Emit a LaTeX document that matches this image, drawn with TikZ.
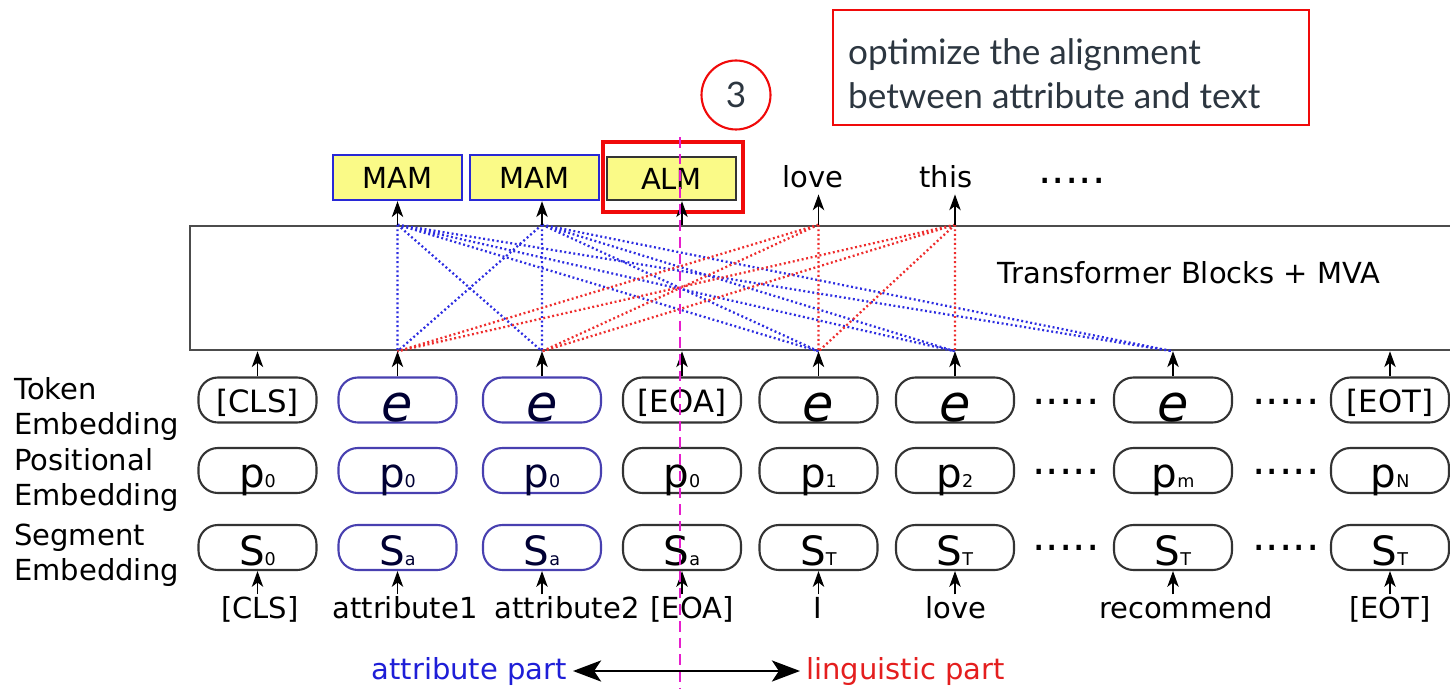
\documentclass[tikz,border=0pt]{standalone}
\usepackage{fontspec}
\setmainfont{DejaVu Sans}
\newfontfamily\notefont{Lato}
\usetikzlibrary{arrows.meta}

\definecolor{attrblue}{RGB}{72,64,176}
\definecolor{headblue}{RGB}{40,40,214}
\definecolor{headyellow}{RGB}{250,250,135}
\definecolor{dotblue}{RGB}{45,45,225}
\definecolor{dotred}{RGB}{238,45,45}
\definecolor{splitpink}{RGB}{230,30,205}
\definecolor{notered}{RGB}{240,10,10}
\definecolor{notetext}{RGB}{44,54,64}
\definecolor{partblue}{RGB}{30,30,215}
\definecolor{partred}{RGB}{228,30,30}

% glyphs inside the embedding boxes
\newcommand{\embe}{{\fontsize{29}{29}\selectfont\itshape e}}
\newcommand{\posp}[1]{{\fontsize{23}{23}\selectfont p}{\fontsize{10}{10}\selectfont #1}}
\newcommand{\segs}[1]{{\fontsize{23}{23}\selectfont S}{\fontsize{10}{10}\selectfont #1}}

\begin{document}
\begin{tikzpicture}[
    x=0.02cm, y=-0.02cm,
    font=\fontsize{16.5}{20}\selectfont,
    emb/.style={draw=black!80, line width=1.2pt, rounded corners=11pt, minimum width=2.36cm, minimum height=0.9cm, inner sep=0pt, text height=0.7cm, text depth=0pt},
    attr/.style={emb, draw=attrblue, text=black!80!blue},
    special/.style={font=\fontsize{17.5}{17.5}\selectfont, text height=0.52cm},
    evec/.style={text height=0.86cm},
    head/.style={draw=headblue, line width=1.4pt, fill=headyellow, minimum width=2.58cm, minimum height=0.9cm, inner sep=0pt},
    arrow/.style={-{Stealth[length=9pt,width=6.5pt,inset=2.5pt]}, line width=0.7pt},
    attnblue/.style={draw=dotblue, line width=1.3pt, dash pattern=on 1.1pt off 1.5pt},
    attnred/.style={draw=dotred, line width=1.3pt, dash pattern=on 1.1pt off 1.5pt},
    word/.style={inner sep=1pt, text height=0.44cm, text depth=0.14cm},
    gap/.style={font=\fontsize{24}{24}\selectfont, inner sep=0pt}
]
\clip (0,0) rectangle (1450,689);

% Note on the alignment objective
\node[draw=notered, line width=1.6pt, minimum width=9.52cm, minimum height=2.3cm] (note) at (1071,67.5) {};
\node[align=left, text=notetext, font=\notefont\fontsize{20}{25}\selectfont, anchor=west] (notetxt) at (842,74) {optimize the alignment\\between attribute and text};
\node[circle, draw=notered, line width=1.2pt, minimum size=1.38cm, text=notetext, font=\notefont\fontsize{20}{20}\selectfont] (three) at (736,95) {3};

% Output heads
\node[head] (mam1) at (397.5,177.5) {MAM};
\node[head] (mam2) at (534.5,177.5) {MAM};
\node[head, draw=black!80, minimum height=0.86cm] (alm) at (671.5,178.5) {ALM};
\node[draw=notered, line width=2.8pt, minimum width=2.8cm, minimum height=1.4cm] (focus) at (673,177) {};
\node (out5) at (813,177) {love};
\node (out6) at (946,177) {this};
\node[gap] (outgap) at (1072,181) {.....};

% Transformer
\node[draw=black!70, line width=1.5pt, minimum width=25.8cm, minimum height=2.48cm] (blk) at (835,288) {};
\node (blktxt) at (1189,273) {Transformer Blocks + MVA};

% Row names
\node[anchor=west, align=left, inner sep=0pt] (tokname) at (14,409) {Token\\Embedding};
\node[anchor=west, align=left, inner sep=0pt] (posname) at (14,480) {Positional\\Embedding};
\node[anchor=west, align=left, inner sep=0pt] (segname) at (14,555) {Segment\\Embedding};

% Token embeddings
\node[emb, special] (tok1) at (257.5,400) {[CLS]};
\node[attr, evec] (tok2) at (397.5,400) {\embe};
\node[attr, evec] (tok3) at (542,400) {\embe};
\node[emb, special] (tok4) at (682,400) {[EOA]};
\node[emb, evec] (tok5) at (818.5,400) {\embe};
\node[emb, evec] (tok6) at (955,400) {\embe};
\node[emb, evec] (tok7) at (1173,400) {\embe};
\node[emb, special] (tok8) at (1390,400) {[EOT]};
\node[gap] (tokgap1) at (1066,402) {.....};
\node[gap] (tokgap2) at (1286,402) {.....};

% Positional embeddings
\node[emb] (pos1) at (257.5,470.5) {\posp{0}};
\node[attr] (pos2) at (397.5,470.5) {\posp{0}};
\node[attr] (pos3) at (542,470.5) {\posp{0}};
\node[emb] (pos4) at (682,470.5) {\posp{0}};
\node[emb] (pos5) at (818.5,470.5) {\posp{1}};
\node[emb] (pos6) at (955,470.5) {\posp{2}};
\node[emb] (pos7) at (1173,470.5) {\posp{m}};
\node[emb] (pos8) at (1390,470.5) {\posp{N}};
\node[gap] (posgap1) at (1066,472) {.....};
\node[gap] (posgap2) at (1286,472) {.....};

% Segment embeddings
\node[emb] (seg1) at (257.5,547.5) {\segs{0}};
\node[attr] (seg2) at (397.5,547.5) {\segs{a}};
\node[attr] (seg3) at (542,547.5) {\segs{a}};
\node[emb] (seg4) at (682,547.5) {\segs{a}};
\node[emb] (seg5) at (818.5,547.5) {\segs{T}};
\node[emb] (seg6) at (955,547.5) {\segs{T}};
\node[emb] (seg7) at (1173,547.5) {\segs{T}};
\node[emb] (seg8) at (1390,547.5) {\segs{T}};
\node[gap] (seggap1) at (1066,548) {.....};
\node[gap] (seggap2) at (1286,548) {.....};

% Input words
\node[word] (word1) at (260,611) {[CLS]};
\node[word] (word2) at (405,611) {attribute1};
\node[word] (word3) at (567,611) {attribute2};
\node[word] (word4) at (692,611) {[EOA]};
\node[word] (word5) at (818,611) {I};
\node[word] (word6) at (956,611) {love};
\node[word] (word7) at (1186,611) {recommend};
\node[word] (word8) at (1390,611) {[EOT]};

% Attention points on the transformer edges
\coordinate (up2) at (tok2 |- blk.north);
\coordinate (up3) at (tok3 |- blk.north);
\coordinate (up4) at (tok4 |- blk.north);
\coordinate (up5) at (tok5 |- blk.north);
\coordinate (up6) at (tok6 |- blk.north);
\coordinate (dn1) at (tok1 |- blk.south);
\coordinate (dn2) at (tok2 |- blk.south);
\coordinate (dn3) at (tok3 |- blk.south);
\coordinate (dn4) at (tok4 |- blk.south);
\coordinate (dn5) at (tok5 |- blk.south);
\coordinate (dn6) at (tok6 |- blk.south);
\coordinate (dn7) at (tok7 |- blk.south);
\coordinate (dn8) at (tok8 |- blk.south);

% Attention links
\draw[attnblue] (up2) -- (dn2) (up2) -- (dn3) (up2) -- (dn5) (up2) -- (dn6) (up2) -- (dn7);
\draw[attnblue] (up3) -- (dn2) (up3) -- (dn3) (up3) -- (dn5) (up3) -- (dn6) (up3) -- (dn7);
\draw[attnred] (up5) -- (dn2) (up5) -- (dn3) (up5) -- (dn5);
\draw[attnred] (up6) -- (dn2) (up6) -- (dn3) (up6) -- (dn5) (up6) -- (dn6);

% Arrows into the heads
\draw[arrow] (up2) -- (up2 |- mam1.south);
\draw[arrow] (up3) -- (up3 |- mam2.south);
\draw[arrow] (up4) -- (up4 |- alm.south);
\draw[arrow] (up5) -- (up5 |- out5.south);
\draw[arrow] (up6) -- (up6 |- out6.south);

% Arrows into the transformer
\draw[arrow] (tok1.north) -- (dn1);
\draw[arrow] (tok2.north) -- (dn2);
\draw[arrow] (tok3.north) -- (dn3);
\draw[arrow] (tok4.north) -- (dn4);
\draw[arrow] (tok5.north) -- (dn5);
\draw[arrow] (tok6.north) -- (dn6);
\draw[arrow] (tok7.north) -- (dn7);
\draw[arrow] (tok8.north) -- (dn8);

% Arrows from the words
\draw[arrow] (word1.north -| seg1) -- (seg1.south);
\draw[arrow] (word2.north -| seg2) -- (seg2.south);
\draw[arrow] (word3.north -| seg3) -- (seg3.south);
\draw[arrow] (word4.north -| seg4) -- (seg4.south);
\draw[arrow] (word5.north -| seg5) -- (seg5.south);
\draw[arrow] (word6.north -| seg6) -- (seg6.south);
\draw[arrow] (word7.north -| seg7) -- (seg7.south);
\draw[arrow] (word8.north -| seg8) -- (seg8.south);

% Split between attribute and text
\coordinate (splittop) at (680,137);
\coordinate (splitbot) at (680,689);
\draw[splitpink, line width=1.6pt, dash pattern=on 6pt off 3.5pt] (splittop) -- (splitbot);

% Parts
\node[text=partblue, anchor=east] (attrpart) at (573,671) {attribute part};
\node[text=partred, anchor=west] (lingpart) at (800,671) {linguistic part};
\draw[{Stealth[length=16pt,width=12pt,inset=4pt]}-{Stealth[length=16pt,width=12pt,inset=4pt]}, line width=1.4pt] (attrpart) -- (lingpart);
\end{tikzpicture}
\end{document}
